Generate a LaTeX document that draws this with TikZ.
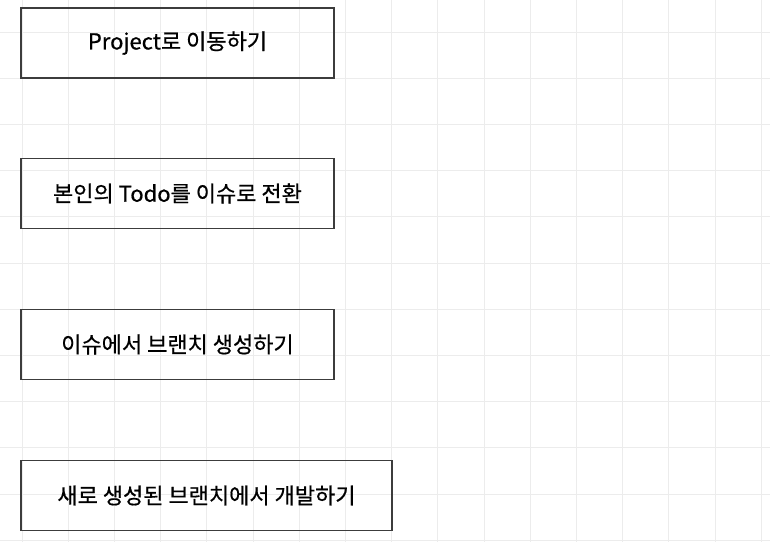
\documentclass[tikz,border=0pt]{standalone}
\usepackage{fontspec}
\setmainfont{Noto Sans CJK KR}
\newfontfamily\boxfont{Noto Sans CJK KR}[FakeBold=0.6]
\usepackage{tikz}
\usepackage{xcolor}
\definecolor{gridgray}{RGB}{236,236,236}
\definecolor{boxline}{RGB}{60,60,60}

\begin{document}
\begin{tikzpicture}[x=1pt, y=-1pt,
  stepbox/.style={draw=boxline, line width=1.4pt, minimum height=70pt, inner sep=0pt,
    font=\boxfont\fontsize{22}{26}\selectfont}]
\useasboundingbox (0,0) rectangle (770,542);
\fill[white] (0,0) rectangle (770,542);

% background grid
\foreach \gx in {0,...,16}
  \draw[gridgray, line width=0.8pt] (22+46.2*\gx,0) -- (22+46.2*\gx,542);
\foreach \gy in {0,...,11}
  \draw[gridgray, line width=0.8pt] (0,32+46.2*\gy) -- (770,32+46.2*\gy);

% steps
\node[stepbox, minimum width=313pt] (project) at (177.5,43) {Project로 이동하기};
\node[stepbox, minimum width=313pt] (todo) at (177.5,193.5) {본인의 Todo를 이슈로 전환};
\node[stepbox, minimum width=313pt] (branch) at (177.5,344.5) {이슈에서 브랜치 생성하기};
\node[stepbox, minimum width=371pt] (develop) at (206.5,495.5) {새로 생성된 브랜치에서 개발하기};
\end{tikzpicture}
\end{document}
